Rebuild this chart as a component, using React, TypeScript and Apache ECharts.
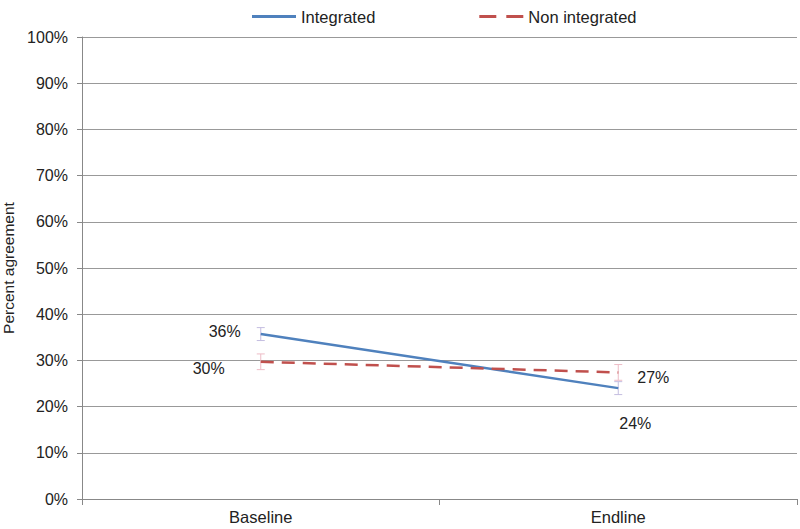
import React, { useEffect, useRef } from "react";
import * as echarts from "echarts";

const categories = ["Baseline", "Endline"];
const integrated = [35.7, 24.0];
const integratedLow = [34.3, 22.6];
const integratedHigh = [37.1, 25.4];
const nonIntegrated = [29.7, 27.4];
const nonIntegratedLow = [28.0, 25.7];
const nonIntegratedHigh = [31.4, 29.1];
const integratedLabels = ["36%", "24%"];
const nonIntegratedLabels = ["30%", "27%"];
const yTicks = [0, 10, 20, 30, 40, 50, 60, 70, 80, 90, 100];

const FONT = "'Liberation Sans', Arial, sans-serif";

export default function App() {
  const ref = useRef<HTMLDivElement>(null);
  useEffect(() => {
    if (!ref.current) return;
    const chart = echarts.init(ref.current, undefined, { renderer: "svg" });

    const errorSeries = (name: string, low: number[], high: number[], color: string) => ({
      type: "custom",
      name,
      silent: true,
      z: 1,
      data: low.map((l, i) => [i, l, high[i]]),
      renderItem: (params: any, api: any) => {
        const x = api.value(0);
        const top = api.coord([x, api.value(2)]);
        const bot = api.coord([x, api.value(1)]);
        const half = 4;
        const style = { stroke: color, lineWidth: 1 };
        return {
          type: "group",
          children: [
            { type: "line", shape: { x1: top[0], y1: top[1], x2: bot[0], y2: bot[1] }, style },
            { type: "line", shape: { x1: top[0] - half, y1: top[1], x2: top[0] + half, y2: top[1] }, style },
            { type: "line", shape: { x1: bot[0] - half, y1: bot[1], x2: bot[0] + half, y2: bot[1] }, style },
          ],
        };
      },
    });

    const labelStyle = { fontSize: 16, color: "#222", fontFamily: FONT };

    chart.setOption({
      animation: false,
      textStyle: { fontFamily: FONT },
      grid: { left: 82, right: 3, top: 37, bottom: 30, containLabel: false, outerBoundsMode: "none" },
      legend: {
        left: 247,
        top: 3,
        itemWidth: 44,
        itemHeight: 3,
        itemGap: 104,
        itemTextGap: 6,
        textStyle: { fontSize: 16.5, color: "#222", fontFamily: FONT },
        data: [
          { name: "Integrated", icon: "rect" },
          { name: "Non integrated", icon: "path://M0,0h17v3h-17z M27,0h17v3h-17z" },
        ],
      },
      xAxis: {
        type: "category",
        data: categories,
        boundaryGap: true,
        axisLine: { lineStyle: { color: "#888", width: 1 } },
        axisTick: { show: true, length: 6, lineStyle: { color: "#888" } },
        axisLabel: { fontSize: 16.5, color: "#222", margin: 9, fontFamily: FONT },
      },
      yAxis: {
        type: "value",
        min: 0,
        max: 100,
        interval: 10,
        name: "Percent agreement",
        nameLocation: "middle",
        nameGap: 64,
        nameTextStyle: { fontSize: 15.5, color: "#222", fontFamily: FONT },
        axisLine: { show: true, lineStyle: { color: "#888", width: 1 } },
        axisTick: { show: true, length: 5, lineStyle: { color: "#888" } },
        splitLine: { show: true, lineStyle: { color: "#999", width: 1 } },
        axisLabel: {
          fontSize: 16,
          color: "#222",
          margin: 14,
          fontFamily: FONT,
          formatter: (v: number) => (yTicks.includes(v) ? v + "%" : ""),
        },
      },
      series: [
        errorSeries("errInt", integratedLow, integratedHigh, "#c4bde0"),
        errorSeries("errNon", nonIntegratedLow, nonIntegratedHigh, "#edbcc6"),
        {
          name: "Integrated",
          type: "line",
          z: 3,
          data: integrated.map((v, i) => ({
            value: v,
            label: i === 0
              ? { show: true, position: "left", distance: 20, offset: [0, -3], formatter: integratedLabels[i], ...labelStyle }
              : { show: true, position: "bottom", distance: 27, offset: [17, 0], formatter: integratedLabels[i], ...labelStyle },
          })),
          symbol: "circle",
          symbolSize: 0,
          showSymbol: true,
          itemStyle: { color: "#4f81bd" },
          lineStyle: { color: "#4f81bd", width: 2.5 },
        },
        {
          name: "Non integrated",
          type: "line",
          z: 3,
          data: nonIntegrated.map((v, i) => ({
            value: v,
            label: i === 0
              ? { show: true, position: "left", distance: 36, offset: [0, 7], formatter: nonIntegratedLabels[i], ...labelStyle }
              : { show: true, position: "right", distance: 19, offset: [0, 5], formatter: nonIntegratedLabels[i], ...labelStyle },
          })),
          symbol: "circle",
          symbolSize: 0,
          showSymbol: true,
          itemStyle: { color: "#c0504d" },
          lineStyle: { color: "#c0504d", width: 2.5, type: [13, 8] },
        },
      ],
    });
    return () => chart.dispose();
  }, []);
  return <div ref={ref} style={{ width: 800, height: 529, position: "fixed", left: 0, top: 0, background: "#fff" }} />;
}
